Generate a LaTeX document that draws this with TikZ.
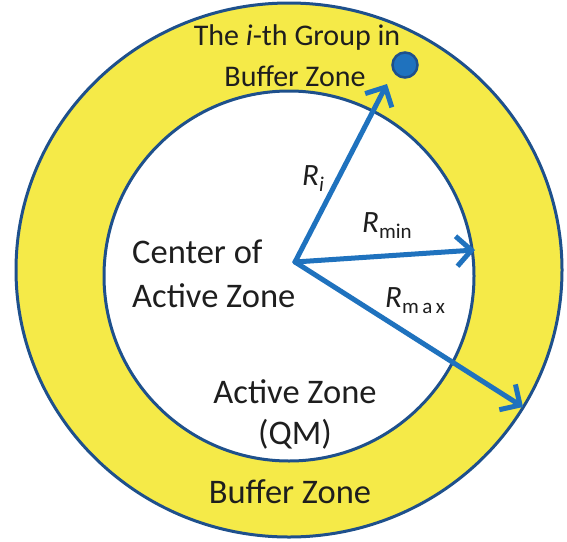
\documentclass[tikz,border=0pt]{standalone}
\usepackage{fontspec}
\setmainfont{Carlito}
\usetikzlibrary{arrows.meta}
\definecolor{zoneyellow}{RGB}{245,234,72}
\definecolor{rimblue}{RGB}{30,80,140}
\definecolor{arrowblue}{RGB}{31,114,190}
\definecolor{txt}{RGB}{30,30,30}
\tikzset{
  rim/.style={draw=rimblue, line width=3pt},
  radius arrow/.style={draw=arrowblue, line width=5pt, line cap=round,
    -{Straight Barb[length=15pt,width=30pt,line width=5pt]}},
  bigtext/.style={inner sep=0pt, text=txt, font=\fontsize{34.5}{40}\selectfont},
  toptext/.style={inner sep=0pt, text=txt, font=\fontsize{30}{36}\selectfont},
  rlabel/.style={inner sep=0pt, text=txt, font=\fontsize{31}{36}\selectfont},
}
\newcommand{\sublab}[1]{\raisebox{-6pt}{\fontsize{21}{24}\selectfont #1}}
\begin{document}
\begin{tikzpicture}[x=1pt,y=-1pt]
\useasboundingbox (0,0) rectangle (567,541);
% zones
\draw[rim, fill=zoneyellow] (289,270) ellipse [x radius=273, y radius=267];
\draw[rim, fill=white] (289,276) circle [radius=185];
% centre and ends
\coordinate (c) at (295,262);
\node[circle, fill=arrowblue, draw=rimblue, line width=2.5pt, minimum size=25pt, inner sep=0pt] (dot) at (405,65) {};
\coordinate (ei) at (387,84);
\coordinate (emin) at (475,250);
\coordinate (emax) at (523,407);
\draw[radius arrow] (c) -- (ei);
\draw[radius arrow] (c) -- (emin);
\draw[radius arrow] (c) -- (emax);
% labels
\node[toptext, anchor=base] (g1) at (297,45) {The \textit{i}-th Group in};
\node[toptext, anchor=base] (g2) at (295,86) {Buffer Zone};
\node[bigtext, anchor=base west] (c1) at (132,263) {Center of};
\node[bigtext, anchor=base west] (c2) at (132,307) {Active Zone};
\node[bigtext, anchor=base] (a1) at (295,403) {Active Zone};
\node[bigtext, anchor=base] (a2) at (295,444) {(QM)};
\node[bigtext, anchor=base] (b1) at (290,503) {Buffer Zone};
\node[rlabel, anchor=base west] (ri) at (302,185) {\textit{R}\sublab{\textit{i}}};
\node[rlabel, anchor=base west] (rmin) at (362,232) {\textit{R}\sublab{min}};
\node[rlabel, anchor=base west] (rmax) at (385,307) {\textit{R}\sublab{m\,a\,x}};
\end{tikzpicture}
\end{document}
